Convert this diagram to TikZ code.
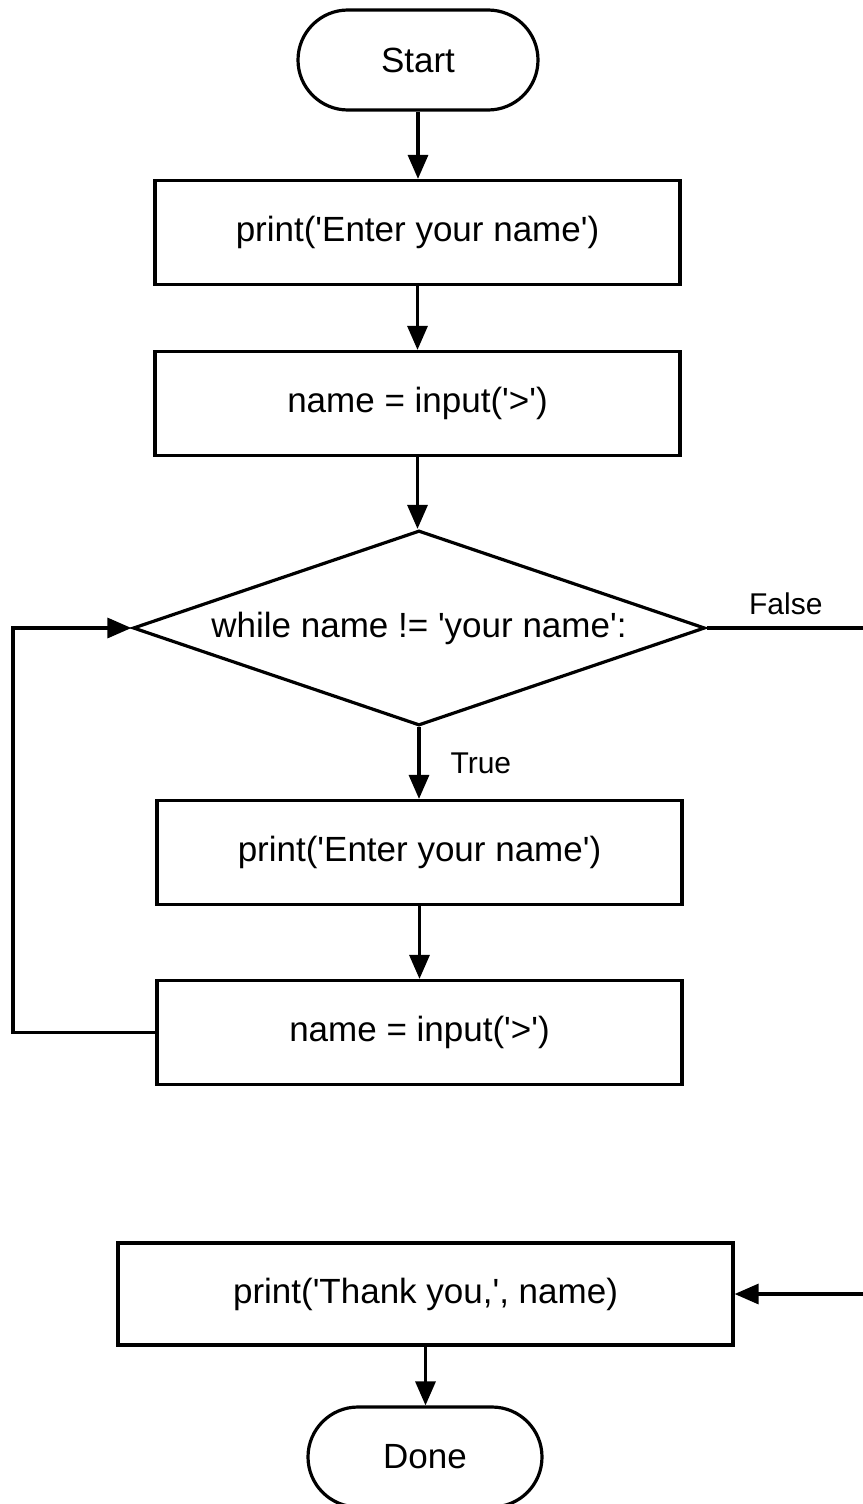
\documentclass[tikz,border=0pt]{standalone}
\usepackage{fontspec}
\setmainfont{Liberation Sans}[Ligatures=TeXOff]
\usetikzlibrary{shapes.geometric,arrows.meta}
\begin{document}
\begin{tikzpicture}[x=1pt,y=-1pt,
  every node/.style={font=\fontsize{35}{42}\selectfont},
  flow/.style={line width=3.2pt},
  arr/.style={flow,-{Triangle[length=24pt,width=20pt]}},
  terminal/.style={draw,line width=3.2pt,rounded corners=50pt,minimum width=240pt,minimum height=100pt,inner sep=0pt},
  process/.style={draw,line width=3.2pt,minimum width=525pt,minimum height=104pt,inner sep=0pt},
  decision/.style={draw,diamond,aspect=2.93,line width=3.2pt,minimum width=572pt,minimum height=195pt,inner sep=0pt},
  lbl/.style={font=\fontsize{30}{36}\selectfont,inner sep=0pt}]
\useasboundingbox (0,0) rectangle (862,1504);

\node[terminal] (start) at (418,60) {Start};
\node[process] (p1) at (417.5,232.5) {print('Enter your name')};
\node[process] (p2) at (417.5,403.5) {name = input('>')};
\node[decision] (loop) at (419,628) {while name != 'your name':};
\node[process] (p3) at (419.5,852.5) {print('Enter your name')};
\node[process] (p4) at (419.5,1032.5) {name = input('>')};
\node[process,minimum width=615pt,minimum height=102pt] (p5) at (425.5,1294) {print('Thank you,', name)};
\node[terminal,minimum width=234pt] (done) at (425,1457) {Done};

\coordinate (backbot) at (13,1032.5);
\coordinate (backtop) at (13,628);
\coordinate (falsetop) at (865,628);
\coordinate (falsebot) at (865,1294);

\draw[arr] (start.south) -- (start.south |- p1.north);
\draw[arr] (p1.south) -- (p1.south |- p2.north);
\draw[arr] (p2.south) -- (p2.south |- loop.north);
\draw[arr] (loop.south) -- (loop.south |- p3.north)
  node[lbl,midway,right=30pt] (truelbl) {True};
\draw[arr] (p3.south) -- (p3.south |- p4.north);
\draw[arr] (p4.west) -- (backbot) -- (backtop) -- (loop.west);
\draw[flow] (loop.east) -- (falsetop)
  node[lbl,pos=0.5,above=12pt] (falselbl) {False};
\draw[arr] (falsetop) -- (falsebot) -- (p5.east);
\draw[arr] (p5.south) -- (p5.south |- done.north);
\end{tikzpicture}
\end{document}
